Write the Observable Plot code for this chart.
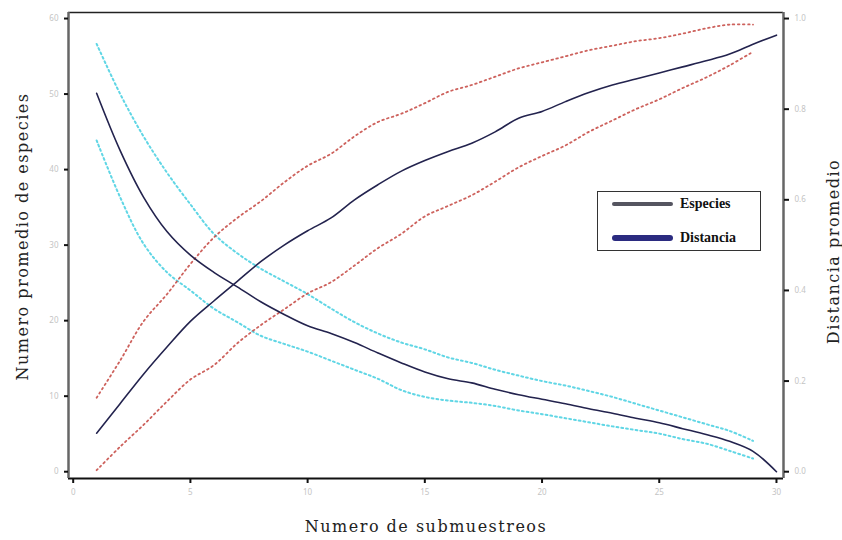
<!DOCTYPE html>
<html>
<head>
<meta charset="utf-8">
<script src="https://cdn.jsdelivr.net/npm/d3@7"></script>
<script src="https://cdn.jsdelivr.net/npm/@observablehq/plot@0.6"></script>
<style>
  html, body { margin: 0; padding: 0; background: #fff; }
  #wrap { position: relative; width: 842px; height: 540px; }
  #legend { position: absolute; left: 597px; top: 191px; width: 164px; height: 60px;
            border: 1.5px solid #333; box-sizing: border-box; background: #fff;
            font-family: "Liberation Serif", serif; font-weight: bold; font-size: 14px; color: #111; }
  .row { position: absolute; left: 14px; display: flex; align-items: center; }
  .sw { width: 61px; border-radius: 3px; margin-right: 7px; }
</style>
</head>
<body>
<div id="wrap"></div>
<script>
// x: number of subsamples
const submuestreos = d3.range(1, 31);
// mean number of species (left axis)
const especies = [5.1, 9.0, 12.9, 16.5, 19.9, 22.6, 25.2, 27.8, 30.0, 31.9, 33.6, 36.0, 38.0, 39.8, 41.2, 42.4, 43.5, 45.0, 46.8, 47.7, 49.0, 50.2, 51.2, 52.0, 52.8, 53.6, 54.4, 55.3, 56.6, 57.8];
const especiesSup = [9.8, 14.7, 19.9, 23.5, 27.5, 31.0, 33.6, 35.8, 38.3, 40.5, 42.1, 44.4, 46.3, 47.4, 48.8, 50.3, 51.2, 52.3, 53.4, 54.2, 55.0, 55.8, 56.4, 57.0, 57.4, 58.0, 58.7, 59.2, 59.2];
const especiesInf = [0.2, 3.3, 6.2, 9.3, 12.2, 14.1, 17.0, 19.4, 21.5, 23.6, 25.1, 27.3, 29.6, 31.5, 33.8, 35.2, 36.6, 38.4, 40.3, 41.8, 43.2, 45.0, 46.5, 48.0, 49.3, 50.8, 52.2, 53.8, 55.6];
// mean distance (right axis, 0–1)
const distancia = [0.835, 0.709, 0.606, 0.53, 0.478, 0.44, 0.408, 0.375, 0.347, 0.322, 0.305, 0.285, 0.262, 0.24, 0.22, 0.205, 0.196, 0.182, 0.17, 0.16, 0.15, 0.139, 0.129, 0.118, 0.108, 0.095, 0.082, 0.067, 0.045, 0.0];
const distanciaSup = [0.944, 0.834, 0.74, 0.66, 0.59, 0.525, 0.482, 0.448, 0.42, 0.392, 0.36, 0.33, 0.305, 0.285, 0.27, 0.252, 0.24, 0.225, 0.212, 0.2, 0.19, 0.178, 0.165, 0.15, 0.135, 0.12, 0.105, 0.09, 0.068];
const distanciaInf = [0.731, 0.606, 0.503, 0.44, 0.40, 0.36, 0.33, 0.30, 0.282, 0.265, 0.245, 0.225, 0.205, 0.18, 0.165, 0.157, 0.152, 0.145, 0.135, 0.127, 0.118, 0.109, 0.1, 0.092, 0.084, 0.072, 0.062, 0.046, 0.029];

const xTicks = [0, 5, 10, 15, 20, 25, 30];
const yTicks = [0, 10, 20, 30, 40, 50, 60];
const dTicks = [0, 0.2, 0.4, 0.6, 0.8, 1.0];

const yMax = 60; // species value equivalent to distance 1.0
const toRows = (vals) => vals.map((v, i) => ({x: submuestreos[i], v}));

const xDom = [-0.2, 30.3], yDom = [-0.9, 60.8];
const serif = "'DejaVu Serif', serif";

const chart = Plot.plot({
  width: 842, height: 540,
  marginLeft: 68, marginRight: 59, marginTop: 12, marginBottom: 62,
  x: {domain: xDom},
  y: {domain: yDom},
  style: {background: "#fff"},
  marks: [
    // confidence bands
    Plot.lineY(toRows(distanciaSup), {x: "x", y: d => d.v * yMax, curve: "catmull-rom", stroke: "#44cfe0", strokeWidth: 2, strokeDasharray: "1.8 3", strokeOpacity: 0.85}),
    Plot.lineY(toRows(distanciaInf), {x: "x", y: d => d.v * yMax, curve: "catmull-rom", stroke: "#44cfe0", strokeWidth: 2, strokeDasharray: "1.8 3", strokeOpacity: 0.85}),
    Plot.lineY(toRows(especiesSup), {x: "x", y: "v", curve: "catmull-rom", stroke: "#c8504a", strokeWidth: 1.8, strokeDasharray: "1.6 3.4", strokeOpacity: 0.9}),
    Plot.lineY(toRows(especiesInf), {x: "x", y: "v", curve: "catmull-rom", stroke: "#c8504a", strokeWidth: 1.8, strokeDasharray: "1.6 3.4", strokeOpacity: 0.9}),
    // means
    Plot.lineY(toRows(especies), {x: "x", y: "v", curve: "catmull-rom", stroke: "#23234e", strokeWidth: 1.6}),
    Plot.lineY(toRows(distancia), {x: "x", y: d => d.v * yMax, curve: "catmull-rom", stroke: "#23234e", strokeWidth: 1.6}),
    // frame
    Plot.ruleY([yDom[1]], {stroke: "#222", strokeWidth: 1.5}),
    Plot.ruleY([yDom[0]], {stroke: "#111", strokeWidth: 2}),
    Plot.ruleX([xDom[0]], {stroke: "#666", strokeWidth: 2.5}),
    Plot.ruleX([xDom[1]], {stroke: "#666", strokeWidth: 2.5}),
    // axes
    Plot.axisX({ticks: xTicks, tickSize: 5, tickPadding: 6, tickFormat: d => String(d), fontSize: 8, stroke: "#111", strokeWidth: 2, fill: "#c4c4c4", label: null}),
    Plot.axisY({ticks: yTicks, tickSize: 4, tickPadding: 6, tickFormat: d => String(d), fontSize: 8, stroke: "#111", strokeWidth: 2, fill: "#c4c4c4", label: null}),
    Plot.axisY({anchor: "right", ticks: dTicks.map(t => t * yMax), tickSize: 5, tickPadding: 6, tickFormat: d => (d / yMax).toFixed(1), fontSize: 8, stroke: "#111", strokeWidth: 2, fill: "#c4c4c4", label: null}),
    // axis titles
    Plot.text(["Numero promedio de especies"], {frameAnchor: "left", textAnchor: "middle", dx: -46, dy: -9, rotate: -90, fontSize: 16, fontFamily: serif, fill: "#222"}),
    Plot.text(["Distancia promedio"], {frameAnchor: "right", textAnchor: "middle", dx: 50, dy: 6, rotate: -90, fontSize: 16, fontFamily: serif, fill: "#222"}),
    Plot.text(["Numero de submuestreos"], {frameAnchor: "bottom", textAnchor: "middle", dy: 53, fontSize: 16, fontFamily: serif, fill: "#222"})
  ]
});
chart.querySelectorAll("text").forEach(t => {
  if (t.textContent === "Numero promedio de especies" || t.textContent === "Numero de submuestreos" || t.textContent === "Distancia promedio") {
    t.style.letterSpacing = "1.5px";
  }
});
const wrap = document.getElementById("wrap");
wrap.appendChild(chart);

const legend = document.createElement("div");
legend.id = "legend";
legend.innerHTML = `
  <div class="row" style="top:4px"><div class="sw" style="height:4px;background:#555560"></div>Especies</div>
  <div class="row" style="top:38px"><div class="sw" style="height:6px;background:#2b2b80"></div>Distancia</div>`;
wrap.appendChild(legend);
</script>
</body>
</html>
